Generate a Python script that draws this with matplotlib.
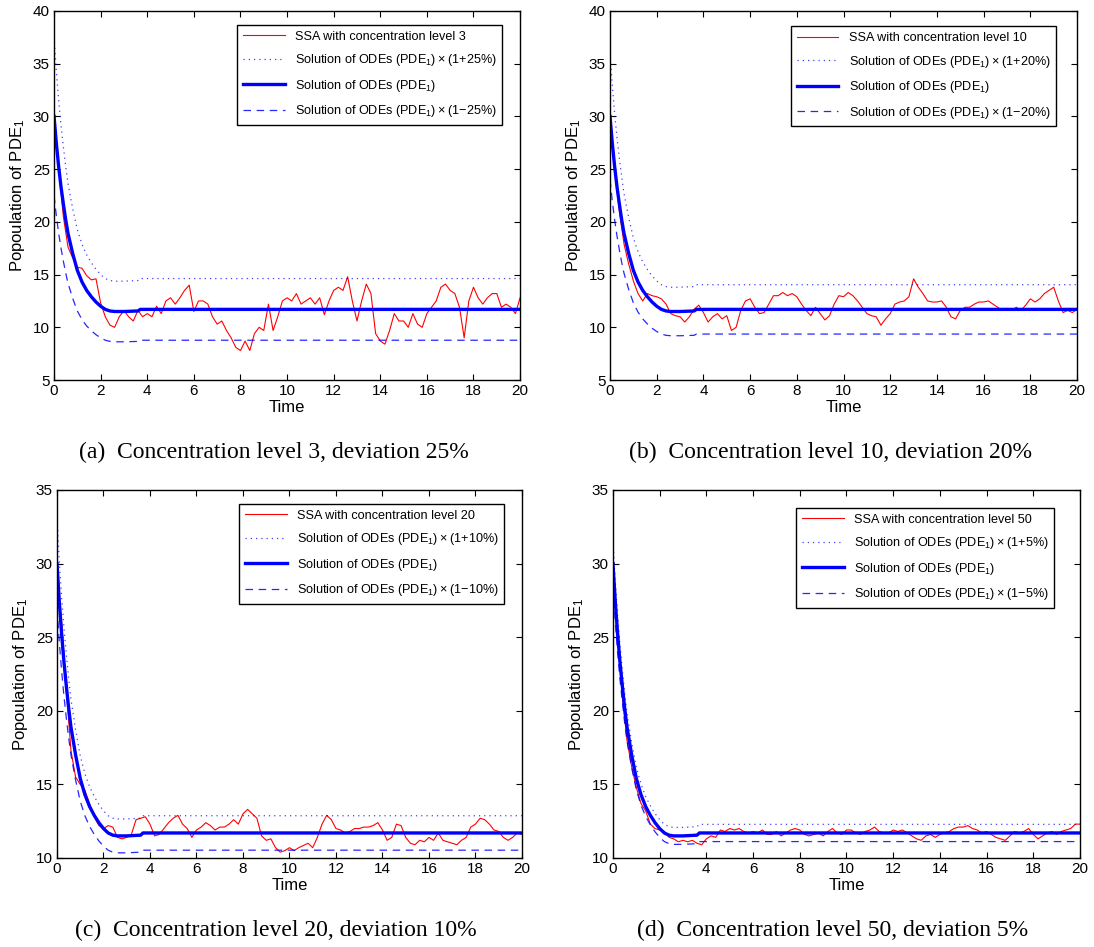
import numpy as np
import matplotlib
matplotlib.use('Agg')
from matplotlib import pyplot as plt

plt.rcParams['font.family'] = ['Liberation Sans', 'DejaVu Sans']
plt.rcParams['mathtext.fontset'] = 'custom'
plt.rcParams['mathtext.rm'] = 'Liberation Sans'
plt.rcParams['mathtext.it'] = 'Liberation Sans:italic'
plt.rcParams['mathtext.bf'] = 'Liberation Sans:bold'

# Deterministic ODE solution for PDE1 (same for every run)
ode_t = [0, 0.1, 0.2, 0.3, 0.4, 0.5, 0.6, 0.8, 1.0, 1.2, 1.4, 1.6, 1.8,
         2.0, 2.2, 2.4, 2.6, 3.0, 3.6, 3.7, 20]
ode_y = [30.0, 27.4, 25.2, 23.3, 21.7, 20.2, 18.9, 17.0, 15.4, 14.3, 13.5,
         12.9, 12.4, 12.0, 11.7, 11.55, 11.5, 11.5, 11.55, 11.7, 11.7]

# SSA trajectories sampled every 0.2 time units
ssa_t = np.linspace(0, 20, 101)

ssa_a = [29.5, 25.2, 20.5, 17.6, 16.6, 15.7, 15.6, 14.9, 14.5, 14.6,
         12.3, 11.0, 10.2, 10.0, 11.0, 11.6, 11.0, 10.6, 11.6, 11.0,
         11.3, 11.0, 12.0, 11.3, 12.5, 12.8, 12.2, 12.8, 13.5, 14.0,
         11.5, 12.5, 12.5, 12.2, 11.0, 10.3, 10.6, 9.7, 9.0, 8.1,
         7.8, 8.7, 7.8, 9.4, 10.0, 9.7, 12.2, 9.7, 11.0, 12.5,
         12.8, 12.5, 13.2, 12.2, 12.5, 12.8, 12.2, 12.8, 11.2, 12.5,
         13.5, 13.8, 13.5, 14.8, 12.5, 10.6, 12.5, 14.1, 13.2, 9.4,
         8.7, 8.4, 9.7, 11.3, 10.6, 10.6, 10.0, 11.3, 10.3, 10.0,
         11.3, 11.9, 12.5, 13.8, 14.1, 13.5, 13.2, 11.9, 9.0, 12.5,
         13.8, 12.8, 12.2, 12.8, 13.2, 13.2, 11.9, 12.2, 11.9, 11.3,
         12.8]

ssa_b = [29.0, 25.0, 21.0, 17.9, 16.0, 14.4, 13.2, 12.5, 13.2, 13.0,
         12.9, 12.7, 12.2, 11.3, 11.1, 11.0, 10.5, 11.0, 11.7, 12.1,
         11.4, 10.5, 11.0, 11.3, 10.8, 11.1, 9.7, 10.0, 11.6, 12.5,
         12.7, 11.9, 11.3, 11.4, 12.2, 13.0, 13.0, 13.3, 13.0, 13.2,
         12.9, 12.2, 11.6, 11.1, 11.9, 11.3, 10.7, 11.1, 12.2, 13.0,
         12.9, 13.3, 13.0, 12.5, 11.9, 11.3, 11.1, 11.0, 10.2, 10.8,
         11.3, 12.2, 12.4, 12.5, 12.9, 14.6, 13.8, 13.2, 12.5, 12.4,
         12.4, 12.5, 11.9, 11.0, 10.8, 11.6, 11.9, 11.9, 12.2, 12.4,
         12.4, 12.5, 12.2, 11.9, 11.6, 11.8, 11.6, 11.9, 11.6, 12.1,
         12.7, 12.4, 12.7, 13.2, 13.5, 13.8, 12.5, 11.4, 11.6, 11.4,
         11.7]

ssa_c = [29.0, 26.0, 21.5, 17.3, 15.5, 15.0, 14.6, 13.7, 12.8, 12.2,
         12.0, 12.2, 12.1, 11.4, 11.3, 11.4, 11.6, 12.6, 12.7, 12.8,
         12.3, 11.5, 11.6, 12.0, 12.4, 12.7, 12.9, 12.3, 12.0, 11.4,
         11.9, 12.1, 12.4, 12.2, 11.9, 12.1, 12.1, 12.3, 12.6, 12.3,
         13.0, 13.3, 13.0, 12.7, 11.5, 11.2, 11.3, 10.7, 10.4, 10.5,
         10.7, 10.5, 10.7, 10.85, 11.0, 10.7, 11.4, 12.3, 12.9, 12.6,
         12.0, 11.9, 11.7, 11.8, 12.0, 12.0, 12.1, 12.1, 12.2, 12.4,
         11.9, 11.2, 11.4, 12.3, 12.2, 11.4, 11.0, 10.9, 11.2, 11.1,
         11.4, 11.2, 11.7, 11.2, 11.1, 11.0, 10.9, 11.2, 11.4, 12.1,
         12.3, 12.7, 12.6, 12.3, 11.9, 11.8, 11.4, 11.2, 11.4, 11.7,
         11.6]

ssa_d = [29.0, 25.0, 21.0, 18.0, 16.2, 14.8, 13.7, 13.2, 12.3, 12.0,
         11.9, 11.8, 11.4, 11.3, 11.1, 11.2, 11.1, 11.2, 11.0, 10.9,
         11.3, 11.5, 11.4, 11.9, 11.8, 12.0, 11.9, 12.0, 11.8, 11.7,
         11.8, 11.7, 11.9, 11.6, 11.6, 11.8, 11.5, 11.7, 11.9, 12.0,
         11.9, 11.6, 11.5, 11.6, 11.7, 11.5, 11.8, 12.0, 11.7, 11.6,
         11.9, 11.9, 11.7, 11.6, 11.8, 11.9, 12.1, 11.8, 11.7, 11.7,
         11.9, 11.8, 11.9, 11.7, 11.5, 11.3, 11.2, 11.5, 11.6, 11.4,
         11.6, 11.7, 11.8, 12.0, 12.1, 12.1, 12.2, 12.0, 11.9, 11.7,
         11.8, 11.6, 11.4, 11.3, 11.2, 11.5, 11.8, 11.7, 11.8, 12.0,
         11.6, 11.3, 11.5, 11.7, 11.8, 11.6, 11.8, 11.9, 12.0, 12.3,
         12.3]

ssa_runs = [ssa_a, ssa_b, ssa_c, ssa_d]
levels = [3, 10, 20, 50]
deviations = [25, 20, 10, 5]
ylims = [(5, 40), (5, 40), (10, 35), (10, 35)]
panel_tags = ['(a)', '(b)', '(c)', '(d)']

# axes rectangles in figure fractions [left, bottom, width, height]
rects = [[0.0494, 0.5987, 0.426, 0.3897],
         [0.5576, 0.5987, 0.4269, 0.3897],
         [0.0521, 0.0940, 0.425, 0.3886],
         [0.5603, 0.0940, 0.4269, 0.3886]]
legend_corner = [(0.962, 0.962), (0.955, 0.958), (0.962, 0.962), (0.945, 0.951)]
caption_pos = [(0.250, 0.5227), (0.759, 0.5227), (0.252, 0.018), (0.761, 0.018)]

fig = plt.figure(figsize=(10.94, 9.47), dpi=100)

for i in range(4):
    ax = fig.add_axes(rects[i])
    dev = deviations[i]
    ode = np.array(ode_y)

    ax.plot(ssa_t, ssa_runs[i], color='#ff0000', lw=0.8,
            label='SSA with concentration level %d' % levels[i])
    ax.plot(ode_t, ode * (1 + dev / 100), color='#0000ff', lw=0.9,
            linestyle=(0, (1, 3.2)), alpha=0.75,
            label='Solution of ODEs (PDE$_1$)\u2009\u00d7\u2009(1+%d%%)' % dev)
    ax.plot(ode_t, ode, color='#0000ff', lw=2.4,
            label='Solution of ODEs (PDE$_1$)')
    ax.plot(ode_t, ode * (1 - dev / 100), color='#0000ff', lw=0.9,
            linestyle=(0, (6, 4.5)), alpha=0.85,
            label='Solution of ODEs (PDE$_1$)\u2009\u00d7\u2009(1\u2212%d%%)' % dev)

    ax.set_xlim(0, 20)
    ax.set_ylim(*ylims[i])
    ax.set_xticks(np.arange(0, 21, 2))
    ax.set_yticks(np.arange(ylims[i][0], ylims[i][1] + 1, 5))
    ax.tick_params(direction='in', top=True, right=True, length=4.5,
                   width=0.8, labelsize=11, pad=3)
    for s in ax.spines.values():
        s.set_linewidth(1.0)
    ax.set_xlabel('Time', fontsize=12, labelpad=1)
    ax.set_ylabel('Popoulation of PDE$_1$', fontsize=12, labelpad=4)

    leg = ax.legend(loc='upper right', bbox_to_anchor=legend_corner[i],
                    borderaxespad=0, fontsize=9.1, handlelength=3.3,
                    handletextpad=0.8, labelspacing=0.75, borderpad=0.45,
                    fancybox=False, framealpha=1, edgecolor='black')
    leg.get_frame().set_linewidth(1.0)

    fig.text(caption_pos[i][0], caption_pos[i][1],
             '%s  Concentration level %d, deviation %d%%' % (panel_tags[i], levels[i], dev),
             family='Liberation Serif', fontsize=17, ha='center', va='center')

fig.savefig('out.png', dpi=100)
